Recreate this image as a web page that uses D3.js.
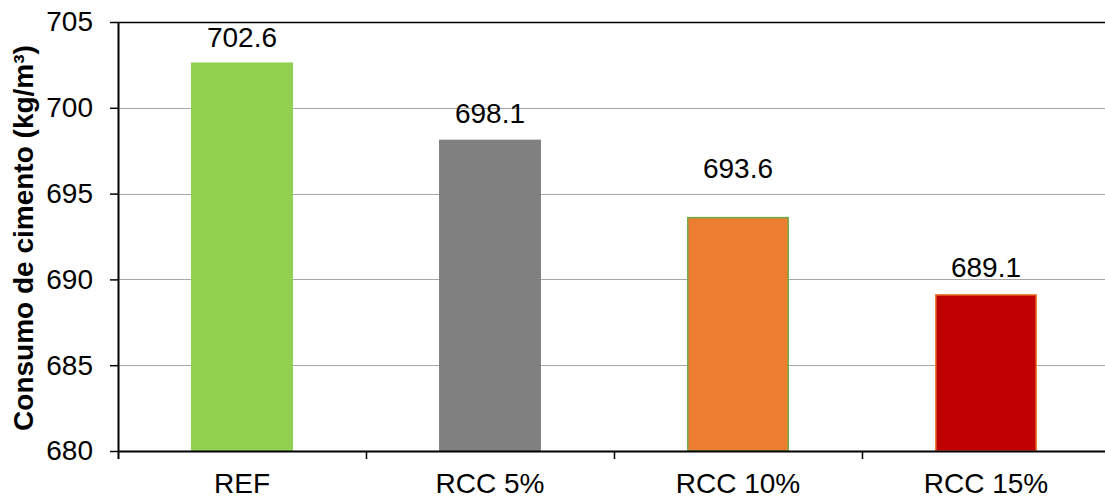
<!DOCTYPE html>
<html>
<head>
<meta charset="utf-8">
<script src="https://cdn.jsdelivr.net/npm/d3@7"></script>
<style>
  html, body { margin: 0; padding: 0; background: #fff; }
  svg { display: block; font-family: "Liberation Sans", Arial, sans-serif; }
</style>
</head>
<body>
<svg id="chart" width="1105" height="499"></svg>
<script>
// Cement consumption per mix
const categories = ["REF", "RCC 5%", "RCC 10%", "RCC 15%"];
const values = [702.6, 698.1, 693.6, 689.1];
const yTicks = [680, 685, 690, 695, 700, 705];
const fills = ["#92D050", "#808080", "#ED7D31", "#C00000"];
const strokes = ["#92D050", "#808080", "#70AD47", "#ED7D31"];
// vertical gap (px) between each bar top and its value label
const labelLift = [16, 17, 40, 18];

const svg = d3.select("#chart");
const plotLeft = 118, plotRight = 1110, plotTop = 22, plotBottom = 451;
const fontSize = 28;

const x = d3.scaleBand().domain(categories).range([plotLeft, plotRight]).paddingInner(0).paddingOuter(0);
const y = d3.scaleLinear().domain([680, 705]).range([plotBottom, plotTop]);

// horizontal gridlines
svg.append("g").selectAll("line")
  .data(yTicks.filter(t => t !== 680 && t !== 705))
  .join("line")
  .attr("x1", plotLeft).attr("x2", plotRight)
  .attr("y1", d => Math.round(y(d)) + 0.5).attr("y2", d => Math.round(y(d)) + 0.5)
  .attr("stroke", "#a6a6a6").attr("stroke-width", 1.2);

// top border
svg.append("line")
  .attr("x1", plotLeft).attr("x2", plotRight)
  .attr("y1", Math.round(y(705)) + 0.5).attr("y2", Math.round(y(705)) + 0.5)
  .attr("stroke", "#000").attr("stroke-width", 1.5);

// bars
const barW = x.bandwidth() * 0.405;
svg.append("g").selectAll("rect")
  .data(values)
  .join("rect")
  .attr("x", (d, i) => x(categories[i]) + (x.bandwidth() - barW) / 2)
  .attr("y", d => y(d))
  .attr("width", barW)
  .attr("height", d => y(680) - y(d))
  .attr("fill", (d, i) => fills[i])
  .attr("stroke", (d, i) => strokes[i])
  .attr("stroke-width", 1.5);

// value labels
svg.append("g").selectAll("text")
  .data(values)
  .join("text")
  .attr("x", (d, i) => x(categories[i]) + x.bandwidth() / 2)
  .attr("y", (d, i) => y(d) - labelLift[i])
  .attr("text-anchor", "middle")
  .attr("font-size", fontSize)
  .attr("fill", "#000")
  .text(d => d.toFixed(1));

// y axis
const yAxis = d3.axisLeft(y).tickValues(yTicks).tickSize(8).tickPadding(17).tickFormat(d3.format("d"));
const gy = svg.append("g").attr("transform", `translate(${plotLeft},0)`).call(yAxis);
gy.select(".domain").remove();
gy.selectAll(".tick line").attr("stroke", "#000").attr("stroke-width", 1.5);
gy.selectAll(".tick text").attr("font-size", fontSize).attr("fill", "#000")
  .attr("font-family", "Liberation Sans, Arial, sans-serif");
svg.append("line")
  .attr("x1", plotLeft + 0.5).attr("x2", plotLeft + 0.5)
  .attr("y1", plotTop).attr("y2", plotBottom + 8)
  .attr("stroke", "#000").attr("stroke-width", 2);

// x axis
svg.append("line")
  .attr("x1", plotLeft).attr("x2", plotRight)
  .attr("y1", plotBottom + 0.5).attr("y2", plotBottom + 0.5)
  .attr("stroke", "#000").attr("stroke-width", 2);
const bounds = categories.slice(1).map(c => x(c));
svg.append("g").selectAll("line")
  .data(bounds)
  .join("line")
  .attr("x1", d => d + 0.5).attr("x2", d => d + 0.5)
  .attr("y1", plotBottom).attr("y2", plotBottom + 8)
  .attr("stroke", "#000").attr("stroke-width", 1.5);
svg.append("g").selectAll("text")
  .data(categories)
  .join("text")
  .attr("x", d => x(d) + x.bandwidth() / 2)
  .attr("y", 493)
  .attr("text-anchor", "middle")
  .attr("font-size", fontSize)
  .attr("fill", "#000")
  .text(d => d);

// y axis title
svg.append("text")
  .attr("transform", `translate(33,238) rotate(-90)`)
  .attr("text-anchor", "middle")
  .attr("font-size", fontSize)
  .attr("font-weight", "bold")
  .attr("fill", "#000")
  .text("Consumo de cimento (kg/m³)");
</script>
</body>
</html>
